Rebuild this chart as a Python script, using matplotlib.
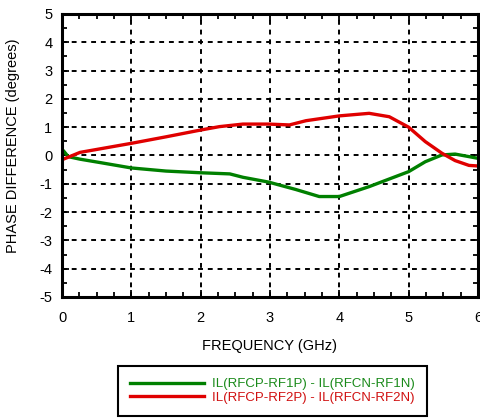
import matplotlib
matplotlib.use("Agg")
import matplotlib.pyplot as plt
from matplotlib.ticker import MultipleLocator

plt.rcParams['font.family'] = ['Liberation Sans', 'DejaVu Sans']
plt.rcParams['axes.unicode_minus'] = False

# phase difference (GHz, degrees)
freq_rf1 = [0.0, 0.02, 0.09, 0.26, 0.55, 1.0, 1.5, 2.0, 2.42, 2.61, 2.98, 3.37, 3.71, 4.0, 4.43, 5.0, 5.24, 5.48, 5.67, 5.87, 6.0]
phase_rf1 = [0.19, 0.17, -0.04, -0.13, -0.25, -0.44, -0.55, -0.61, -0.65, -0.77, -0.94, -1.2, -1.45, -1.45, -1.1, -0.57, -0.22, 0.02, 0.05, -0.04, -0.1]

freq_rf2 = [0.0, 0.02, 0.26, 1.0, 1.5, 2.0, 2.27, 2.61, 2.98, 3.28, 3.52, 4.0, 4.43, 4.72, 5.0, 5.24, 5.48, 5.67, 5.87, 6.0]
phase_rf2 = [-0.16, -0.13, 0.11, 0.43, 0.66, 0.90, 1.02, 1.11, 1.11, 1.08, 1.23, 1.40, 1.49, 1.37, 1.0, 0.49, 0.08, -0.18, -0.35, -0.37]

labels = ['IL(RFCP-RF1P) - IL(RFCN-RF1N)', 'IL(RFCP-RF2P) - IL(RFCN-RF2N)']
colors = ['#008000', '#e00000']
text_colors = ['#1a8a1a', '#d01010']

fig = plt.figure(figsize=(4.8, 4.19), dpi=100)
ax = fig.add_axes([62 / 480, 1 - 297 / 419, (478 - 62) / 480, 283 / 419])

l1, = ax.plot(freq_rf1, phase_rf1, color=colors[0], lw=2.4, solid_joinstyle='round')
l2, = ax.plot(freq_rf2, phase_rf2, color=colors[1], lw=2.4, solid_joinstyle='round')

ax.set_xlim(0, 6)
ax.set_ylim(-5, 5)
ax.xaxis.set_major_locator(MultipleLocator(1))
ax.xaxis.set_minor_locator(MultipleLocator(0.25))
ax.yaxis.set_major_locator(MultipleLocator(1))
ax.yaxis.set_minor_locator(MultipleLocator(0.5))
ax.grid(True, which='major', color='black', linestyle=(0, (2.5, 2.5)), lw=1.4)

for s in ax.spines.values():
    s.set_linewidth(2.2)
ax.tick_params(which='both', direction='in', top=True, right=True, labelsize=10.5, width=1.3)
ax.tick_params(which='major', length=5)
ax.tick_params(which='minor', length=3.5)
ax.tick_params(axis='x', pad=10)
ax.tick_params(axis='y', pad=7)

ax.set_xlabel('FREQUENCY (GHz)', fontsize=10.5, labelpad=10)
ax.set_ylabel('PHASE DIFFERENCE (degrees)', fontsize=10.5)
ax.yaxis.set_label_coords(-0.101, 0.534)

leg = fig.legend([l1, l2], labels, loc='center', bbox_to_anchor=(0.568, 0.067),
                 fontsize=9.5, handlelength=5.6, handletextpad=0.6, labelspacing=0.1,
                 fancybox=False, framealpha=1, edgecolor='black', borderpad=0.9)
leg.get_frame().set_linewidth(1.5)
for txt, c in zip(leg.get_texts(), text_colors):
    txt.set_color(c)

fig.savefig('out.png', dpi=100)
